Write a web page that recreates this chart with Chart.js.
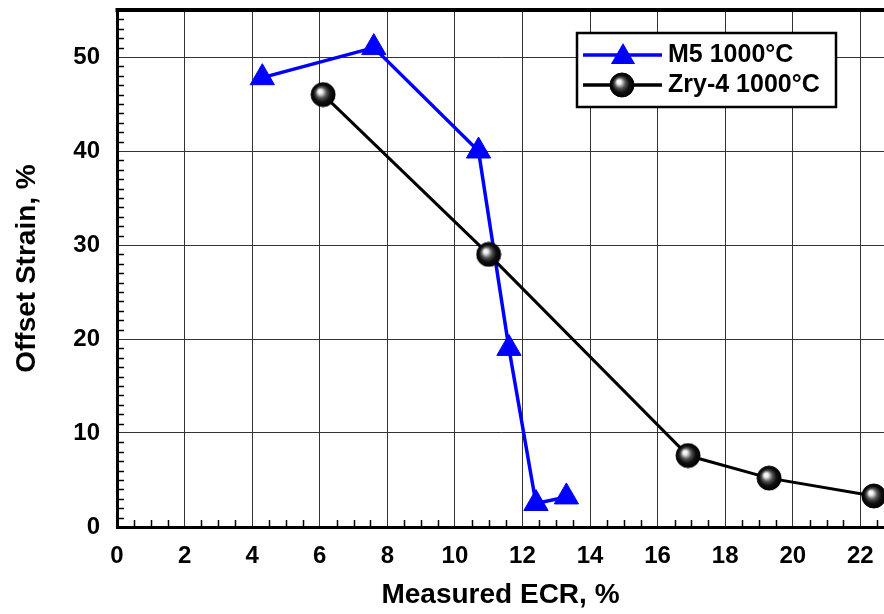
<!DOCTYPE html>
<html>
<head>
<meta charset="utf-8">
<script src="https://cdn.jsdelivr.net/npm/chart.js@4.4.0/dist/chart.umd.min.js"></script>
<style>
  html, body { margin: 0; padding: 0; background: #fff; }
  #chart { display: block; }
</style>
</head>
<body>
<canvas id="chart" width="884" height="614"></canvas>
<script>
// data
const m5Ecr = [4.3, 7.6, 10.7, 11.6, 12.4, 13.3];
const m5Strain = [47.8, 51.0, 40.0, 19.0, 2.5, 3.2];
const zryEcr = [6.1, 11.0, 16.9, 19.3, 22.4];
const zryStrain = [46.0, 29.0, 7.6, 5.2, 3.3];
const xTickValues = [0, 2, 4, 6, 8, 10, 12, 14, 16, 18, 20, 22];
const yTickValues = [0, 10, 20, 30, 40, 50];
const seriesNames = ['M5 1000°C', 'Zry-4 1000°C'];

const FONT = "'Liberation Sans', Arial, sans-serif";
const BLUE = '#0000ff';

// shiny black ball used as the Zry-4 marker
function makeSphere(r) {
    const c = document.createElement('canvas');
    c.width = c.height = 2 * r + 2;
    const g = c.getContext('2d');
    const cx = r + 1, cy = r + 1;
    const grad = g.createRadialGradient(cx - r * 0.3, cy - r * 0.3, 0, cx, cy, r);
    grad.addColorStop(0, '#ffffff');
    grad.addColorStop(0.18, '#eeeeee');
    grad.addColorStop(0.45, '#555555');
    grad.addColorStop(0.7, '#111111');
    grad.addColorStop(1, '#000000');
    g.fillStyle = grad;
    g.beginPath();
    g.arc(cx, cy, r, 0, Math.PI * 2);
    g.fill();
    g.lineWidth = 1;
    g.strokeStyle = '#000';
    g.stroke();
    return c;
}
const sphere = makeSphere(12);

function drawTriangle(ctx, x, y, r) {
    ctx.beginPath();
    for (let i = 0; i < 3; i++) {
        const a = i * 2 * Math.PI / 3;
        const px = x + Math.sin(a) * r, py = y - Math.cos(a) * r;
        if (i === 0) ctx.moveTo(px, py); else ctx.lineTo(px, py);
    }
    ctx.closePath();
    ctx.fill();
}

// minor ticks, top frame line and the boxed legend
const decorPlugin = {
    id: 'decor',
    beforeDatasetsDraw(chart) {
        const { ctx, chartArea: a, scales: { x, y } } = chart;
        ctx.save();
        ctx.strokeStyle = '#000';
        ctx.lineWidth = 1.5;
        ctx.beginPath();
        for (let v = 0.5; v < x.max; v += 0.5) {
            if (v % 2 === 0) continue;
            const px = Math.round(x.getPixelForValue(v)) + 0.5;
            ctx.moveTo(px, a.bottom);
            ctx.lineTo(px, a.bottom - 7);
        }
        for (let v = 1; v < y.max; v++) {
            if (v % 10 === 0) continue;
            const py = Math.round(y.getPixelForValue(v)) + 0.5;
            ctx.moveTo(a.left, py);
            ctx.lineTo(a.left + 7, py);
        }
        ctx.stroke();
        ctx.lineWidth = 4;
        ctx.beginPath();
        ctx.moveTo(a.left - 1.5, a.top);
        ctx.lineTo(a.right, a.top);
        ctx.stroke();
        ctx.restore();
    },
    afterDraw(chart) {
        const ctx = chart.ctx;
        const bx = 577, by = 33, bw = 259, bh = 74;
        ctx.save();
        ctx.fillStyle = '#fff';
        ctx.fillRect(bx, by, bw, bh);
        ctx.strokeStyle = '#000';
        ctx.lineWidth = 2.5;
        ctx.strokeRect(bx, by, bw, bh);

        const rows = [by + 22, by + 52];
        const colors = [BLUE, '#000'];
        rows.forEach((ry, i) => {
            ctx.strokeStyle = colors[i];
            ctx.lineWidth = 3.5;
            ctx.beginPath();
            ctx.moveTo(bx + 6, ry);
            ctx.lineTo(bx + 85, ry);
            ctx.stroke();
            if (i === 0) {
                ctx.fillStyle = BLUE;
                drawTriangle(ctx, bx + 46, ry + 2, 14);
            } else {
                ctx.drawImage(sphere, bx + 45 - sphere.width / 2, ry - sphere.height / 2);
            }
            ctx.fillStyle = '#000';
            ctx.font = 'bold 25px ' + FONT;
            ctx.textBaseline = 'middle';
            ctx.textAlign = 'left';
            ctx.fillText(seriesNames[i], bx + 91, ry);
        });
        ctx.restore();
    }
};

const tickFont = { family: FONT, size: 24, weight: 'bold' };
const titleFont = { family: FONT, size: 28, weight: 'bold' };

new Chart(document.getElementById('chart'), {
    type: 'scatter',
    data: {
        datasets: [
            {
                label: seriesNames[1],
                data: zryEcr.map((v, i) => ({ x: v, y: zryStrain[i] })),
                showLine: true,
                borderColor: '#000',
                borderWidth: 3,
                pointStyle: sphere,
                pointRadius: 12,
                clip: false
            },
            {
                label: seriesNames[0],
                data: m5Ecr.map((v, i) => ({ x: v, y: m5Strain[i] })),
                showLine: true,
                borderColor: BLUE,
                borderWidth: 3.5,
                backgroundColor: BLUE,
                pointBackgroundColor: BLUE,
                pointBorderColor: BLUE,
                pointBorderWidth: 1,
                pointStyle: 'triangle',
                pointRadius: 14,
                clip: false
            }
        ]
    },
    options: {
        responsive: false,
        animation: false,
        layout: { autoPadding: false, padding: { top: 10, left: 0, right: 0, bottom: 0 } },
        plugins: {
            legend: { display: false },
            tooltip: { enabled: false }
        },
        scales: {
            x: {
                type: 'linear',
                min: 0,
                max: 22.7,
                afterBuildTicks: s => { s.ticks = xTickValues.map(v => ({ value: v })); },
                afterFit: s => { s.height = 87; s.paddingLeft = 0; s.paddingRight = 0; },
                ticks: { font: tickFont, color: '#000', padding: 15, maxRotation: 0, autoSkip: false },
                grid: { color: '#333', lineWidth: 1, drawTicks: false },
                border: { color: '#000', width: 3 },
                title: { display: true, text: 'Measured ECR, %', font: titleFont, color: '#000', padding: { top: 0, bottom: 2 } }
            },
            y: {
                type: 'linear',
                min: 0,
                max: 55,
                afterBuildTicks: s => { s.ticks = yTickValues.map(v => ({ value: v })); },
                afterFit: s => { s.width = 117; s.paddingTop = 0; s.paddingBottom = 0; },
                ticks: { font: tickFont, color: '#000', padding: 17, autoSkip: false },
                grid: { color: '#333', lineWidth: 1, drawTicks: false },
                border: { color: '#000', width: 3 },
                title: { display: true, text: 'Offset Strain, %', font: titleFont, color: '#000', padding: { top: 10, bottom: 0 } }
            }
        }
    },
    plugins: [decorPlugin]
});
</script>
</body>
</html>
